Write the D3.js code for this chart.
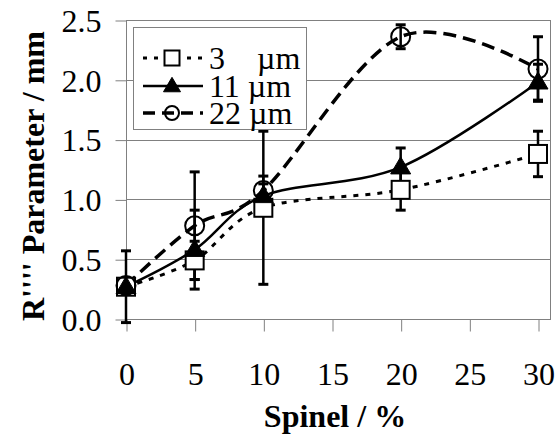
<!DOCTYPE html>
<html>
<head>
<meta charset="utf-8">
<script src="https://cdn.jsdelivr.net/npm/d3@7"></script>
<style>
  html, body { margin: 0; padding: 0; background: #fff; }
  svg { display: block; }
  text { font-family: "Liberation Serif", "Times New Roman", serif; fill: #000; }
</style>
</head>
<body>
<svg id="chart" width="556" height="434"></svg>
<script>
// ---- data ----
const spinel = [0, 5, 10, 20, 30];
const seriesNames = ["3    \u00B5m", "11 \u00B5m", "22 \u00B5m"];
const r3 = [0.27, 0.49, 0.93, 1.08, 1.38];
const r3err = [0.30, 0.16, 0.64, 0.17, 0.19];
const r11 = [0.27, 0.58, 1.03, 1.27, 1.98];
const r11err = [0.05, 0.33, 0.10, 0.16, 0.15];
const r22 = [0.28, 0.78, 1.075, 2.36, 2.09];
const r22err = [0.05, 0.45, 0.12, 0.10, 0.27];
const xTicks = [0, 5, 10, 15, 20, 25, 30];
const yTicks = [0.0, 0.5, 1.0, 1.5, 2.0, 2.5];

(function () {
const svg = d3.select("#chart");
const pLeft = 126, pRight = 550, pTop = 20, pBottom = 319;
const x = d3.scaleLinear().domain([0, 30]).range([126, 538]);
const y = d3.scaleLinear().domain([0, 2.5]).range([pBottom, pTop]);
const gray = "#808080";

// gridlines
svg.append("g").selectAll("line").data(yTicks).join("line")
  .attr("x1", pLeft).attr("x2", pRight)
  .attr("y1", d => Math.round(y(d)) + 0.5).attr("y2", d => Math.round(y(d)) + 0.5)
  .attr("stroke", gray).attr("stroke-width", 1);
// plot border (left, right)
svg.append("line").attr("x1", pLeft + 0.5).attr("x2", pLeft + 0.5).attr("y1", pTop).attr("y2", pBottom + 1)
  .attr("stroke", gray);
svg.append("line").attr("x1", pRight + 0.5).attr("x2", pRight + 0.5).attr("y1", pTop).attr("y2", pBottom + 1)
  .attr("stroke", gray);

// axes
const yAxis = d3.axisLeft(y).tickValues(yTicks).tickFormat(d3.format(".1f")).tickSize(11).tickPadding(14);
const gy = svg.append("g").attr("transform", `translate(${pLeft + 0.5},0.5)`).call(yAxis);
gy.select(".domain").remove();
gy.selectAll(".tick line").attr("stroke", gray);
gy.selectAll(".tick text").attr("font-size", 32).attr("font-family", "Liberation Serif").attr("dy", "0.34em");

const xAxis = d3.axisBottom(x).tickValues(xTicks).tickFormat(d3.format("d")).tickSize(12).tickPadding(31);
const gx = svg.append("g").attr("transform", `translate(0.5,${pBottom + 0.5})`).call(xAxis);
gx.select(".domain").remove();
gx.selectAll(".tick line").attr("stroke", gray);
gx.selectAll(".tick text").attr("font-size", 32).attr("font-family", "Liberation Serif");

// axis titles
svg.append("text").attr("x", 335).attr("y", 427).attr("text-anchor", "middle")
  .attr("font-size", 32).attr("font-weight", "bold").text("Spinel / %");
svg.append("text").attr("transform", "translate(44,176) rotate(-90)").attr("text-anchor", "middle")
  .attr("font-size", 32).attr("font-weight", "bold").text("R'''' Parameter / mm");

// series
const series = [
  { name: seriesNames[0], vals: r3, err: r3err, dash: "5,7", width: 3, marker: "square" },
  { name: seriesNames[1], vals: r11, err: r11err, dash: null, width: 2.5, marker: "triangle" },
  { name: seriesNames[2], vals: r22, err: r22err, dash: "13,7", width: 3.5, marker: "circle" }
];

const line = d3.line().curve(d3.curveCardinal.tension(0));

function drawMarker(g, type, cx, cy, s) {
  if (type === "square") {
    g.append("rect").attr("x", cx - s / 2).attr("y", cy - s / 2).attr("width", s).attr("height", s)
      .attr("fill", "#fff").attr("stroke", "#000").attr("stroke-width", 2);
  } else if (type === "triangle") {
    const h = s * 0.85;
    g.append("path").attr("d", `M${cx},${cy - h * 0.6}L${cx + s / 2},${cy + h * 0.4}L${cx - s / 2},${cy + h * 0.4}Z`)
      .attr("fill", "#000").attr("stroke", "#000").attr("stroke-width", 1);
  } else {
    g.append("circle").attr("cx", cx).attr("cy", cy).attr("r", s / 2)
      .attr("fill", "none").attr("stroke", "#000").attr("stroke-width", 2);
  }
}

series.forEach(s => {
  const pts = spinel.map((v, i) => [x(v), y(s.vals[i])]);
  const p = svg.append("path").attr("d", line(pts)).attr("fill", "none")
    .attr("stroke", "#000").attr("stroke-width", s.width);
  if (s.dash) p.attr("stroke-dasharray", s.dash);
});

series.forEach(s => {
  const g = svg.append("g");
  spinel.forEach((v, i) => {
    const cx = x(v), y1 = y(s.vals[i] + s.err[i]), y2 = y(s.vals[i] - s.err[i]);
    g.append("line").attr("x1", cx).attr("x2", cx).attr("y1", y1).attr("y2", y2)
      .attr("stroke", "#000").attr("stroke-width", 2.5);
    [y1, y2].forEach(yy => g.append("line").attr("x1", cx - 5).attr("x2", cx + 5)
      .attr("y1", yy).attr("y2", yy).attr("stroke", "#000").attr("stroke-width", 3));
  });
});

series.forEach(s => {
  const g = svg.append("g");
  const size = s.marker === "circle" ? 19 : (s.marker === "triangle" ? 20 : 18);
  spinel.forEach((v, i) => drawMarker(g, s.marker, x(v), y(s.vals[i]), size));
});

// legend
const lg = svg.append("g");
lg.append("rect").attr("x", 133.5).attr("y", 27.5).attr("width", 173).attr("height", 102)
  .attr("fill", "#fff").attr("stroke", gray).attr("stroke-width", 1);
const rowY = [58, 86, 113];
series.forEach((s, i) => {
  const yy = rowY[i];
  const l = lg.append("line").attr("x1", 143).attr("x2", 203).attr("y1", yy).attr("y2", yy)
    .attr("stroke", "#000").attr("stroke-width", s.width);
  if (s.dash) l.attr("stroke-dasharray", s.dash === "5,7" ? "4,7" : "12,7");
  const size = s.marker === "circle" ? 14 : (s.marker === "triangle" ? 17 : 15);
  drawMarker(lg, s.marker, 172, yy, size);
  lg.append("text").attr("x", 209).attr("y", yy + 11).attr("font-size", 32)
    .attr("xml:space", "preserve").style("white-space", "pre").text(s.name);
});
})();
</script>
</body>
</html>
